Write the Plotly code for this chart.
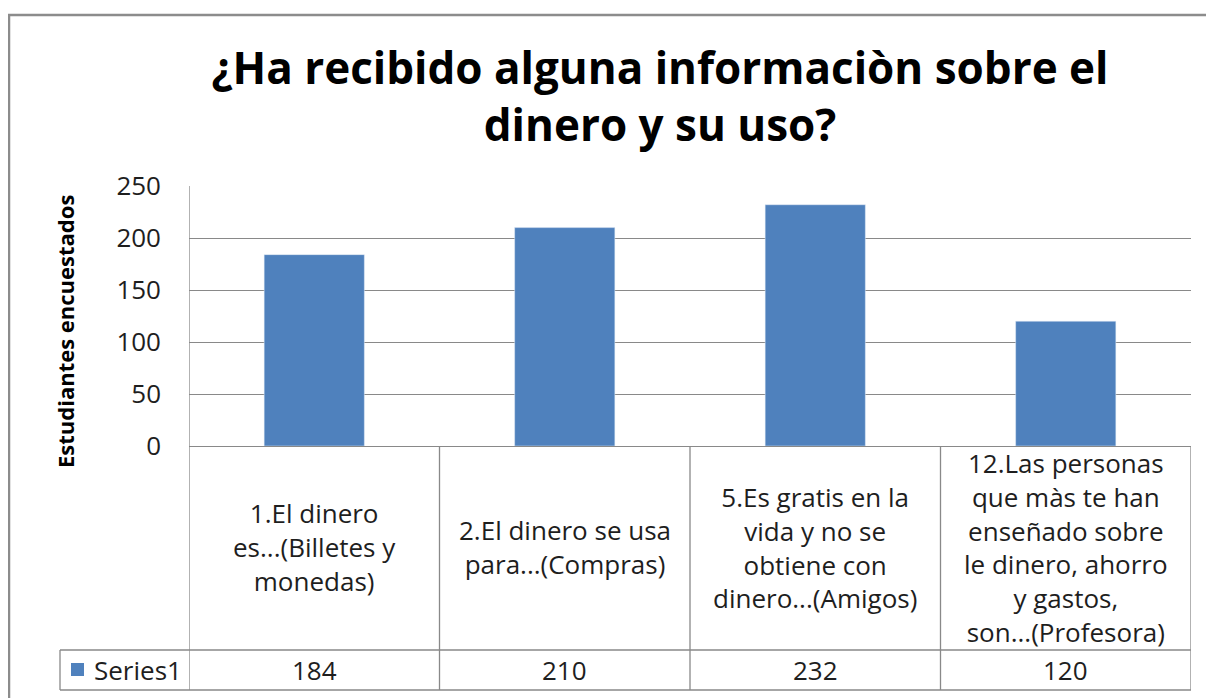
import plotly.graph_objects as go

# ---- data ----
categories = [
    "1.El dinero<br>es...(Billetes y<br>monedas)",
    "2.El dinero se usa<br>para...(Compras)",
    "5.Es gratis en la<br>vida y no se<br>obtiene con<br>dinero...(Amigos)",
    "12.Las personas<br>que màs te han<br>enseñado sobre<br>le dinero, ahorro<br>y gastos,<br>son...(Profesora)",
]
values = [184, 210, 232, 120]
series_name = "Series1"
title_text = "¿Ha recibido alguna informaciòn sobre el<br>dinero y su uso?"
y_title = "Estudiantes encuestados"
y_ticks = [0, 50, 100, 150, 200, 250]

# ---- layout geometry (pixels, page coordinates) ----
OFF = 8  # default body margin of the html page
W, H = 1214 - OFF, 698 - OFF
PL, PR, PT, PB = 189, 1191, 186, 446
BAR = "#4F81BD"
LINE = "#898989"
FONT = "Open Sans"
TXT = "#1e1e1e"
FS = 26

def px_x(p):
    return (p - PL) / (PR - PL)

def px_y(p):
    return (PB - p) / (PB - PT)

idx = list(range(len(categories)))

fig = go.Figure()
fig.add_trace(go.Bar(x=idx, y=values, marker_color=BAR, width=0.4,
                     name=series_name, showlegend=False))

shapes = []
ann = []
row1_bottom = 650
row2_bottom = 690
lw = 1.3

shapes.append(dict(type="line", xref="paper", yref="paper",
                   x0=px_x(60), x1=1, y0=px_y(row1_bottom), y1=px_y(row1_bottom),
                   line=dict(color=LINE, width=lw)))
shapes.append(dict(type="line", xref="paper", yref="paper",
                   x0=px_x(60), x1=1, y0=px_y(row2_bottom), y1=px_y(row2_bottom),
                   line=dict(color=LINE, width=lw)))
shapes.append(dict(type="line", xref="paper", yref="paper",
                   x0=px_x(60), x1=px_x(60), y0=px_y(row1_bottom), y1=px_y(row2_bottom),
                   line=dict(color=LINE, width=lw)))
for b in [i - 0.5 for i in idx] + [idx[-1] + 0.5]:
    y_top = 1 if b == -0.5 else 0
    shapes.append(dict(type="line", xref="x", yref="paper",
                       x0=b, x1=b, y0=y_top, y1=px_y(row2_bottom),
                       line=dict(color=LINE, width=lw)))

# outer chart border
shapes.append(dict(type="rect", xref="paper", yref="paper",
                   x0=px_x(9), x1=px_x(1260), y0=px_y(15), y1=px_y(760),
                   line=dict(color="#8c8c8c", width=2.5), fillcolor="rgba(0,0,0,0)"))

# legend key square
shapes.append(dict(type="rect", xref="paper", yref="paper",
                   x0=px_x(71), x1=px_x(84), y0=px_y(663), y1=px_y(676),
                   line=dict(width=0), fillcolor=BAR))

for i, (c, v) in zip(idx, zip(categories, values)):
    ann.append(dict(x=i, y=px_y(547), xref="x", yref="paper", text=c,
                    showarrow=False, xanchor="center", yanchor="middle",
                    font=dict(family=FONT, size=FS, color=TXT)))
    ann.append(dict(x=i, y=px_y(670), xref="x", yref="paper", text=str(v),
                    showarrow=False, xanchor="center", yanchor="middle",
                    font=dict(family=FONT, size=FS, color=TXT)))
ann.append(dict(x=px_x(92), y=px_y(670), xref="paper", yref="paper", text=series_name,
                showarrow=False, xanchor="left", yanchor="middle",
                font=dict(family=FONT, size=FS, color=TXT)))
ann.append(dict(x=px_x(65), y=px_y(332), xref="paper", yref="paper", text="<b>" + y_title + "</b>",
                showarrow=False, xanchor="center", yanchor="middle", textangle=-90,
                font=dict(family=FONT, size=22, color="#000000")))

fig.update_layout(
    width=W, height=H,
    margin=dict(l=PL - OFF, r=1214 - PR, t=PT - OFF, b=698 - PB, pad=0),
    paper_bgcolor="white", plot_bgcolor="white",
    title=dict(text="<b>" + title_text + "</b>", xref="container", yref="container",
               x=(660 - OFF) / W, xanchor="center", y=1 - (84 - OFF) / H, yanchor="middle",
               font=dict(family=FONT, size=44, color="#000000")),
    shapes=shapes, annotations=ann,
    showlegend=False,
)
fig.update_xaxes(range=[-0.5, len(categories) - 0.5], showticklabels=False,
                 showgrid=False, zeroline=False, showline=False)
fig.update_yaxes(range=[0, 250], tickvals=y_ticks, showgrid=True, gridcolor=LINE,
                 gridwidth=lw, zeroline=True, zerolinecolor=LINE, zerolinewidth=lw,
                 showline=False, ticks="", ticklen=0,
                 tickfont=dict(family=FONT, size=FS, color=TXT), ticklabelstandoff=27)

fig.write_html("out.html")
